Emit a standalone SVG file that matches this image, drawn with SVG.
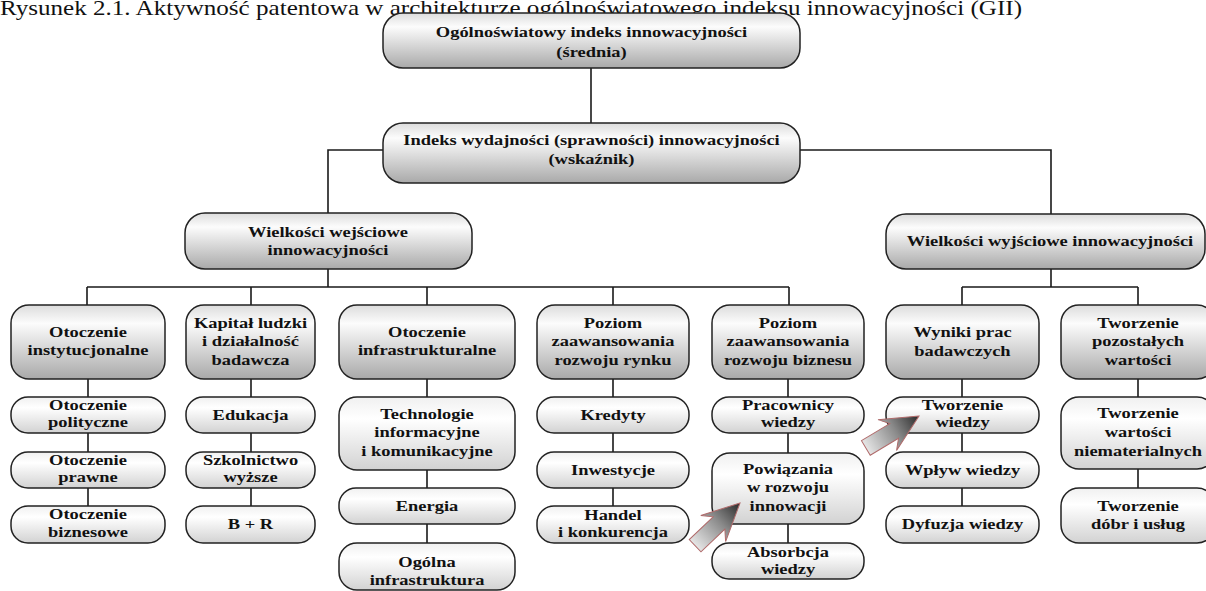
<svg xmlns="http://www.w3.org/2000/svg" width="1206" height="591" viewBox="0 0 1206 591">
<style>
.title{font-family:"Liberation Serif","Times New Roman",serif;font-size:20.4px;fill:#111}
.t{font-family:"Liberation Serif","Times New Roman",serif;font-weight:bold;font-size:15px;fill:#111;text-anchor:middle}
.m{fill:url(#gMain);stroke:#222;stroke-width:1.5}
.l{fill:url(#gLight);stroke:#222;stroke-width:1.5}
.c{stroke:#1a1a1a;stroke-width:1.6;fill:none}
.ar{fill:url(#gArrow);stroke:#b06a6a;stroke-width:1}
</style>
<defs>
<linearGradient id="gMain" x1="0" y1="0" x2="0" y2="1">
<stop offset="0" stop-color="#dcdcdc"/>
<stop offset="0.25" stop-color="#fcfcfc"/>
<stop offset="1" stop-color="#a9a9a9"/>
</linearGradient>
<linearGradient id="gLight" x1="0" y1="0" x2="0" y2="1">
<stop offset="0" stop-color="#f0f0f0"/>
<stop offset="0.3" stop-color="#ffffff"/>
<stop offset="1" stop-color="#d2d2d2"/>
</linearGradient>
<linearGradient id="gArrow" x1="0" y1="0" x2="1" y2="0">
<stop offset="0" stop-color="#e6e6e6"/>
<stop offset="0.55" stop-color="#8a8a8a"/>
<stop offset="1" stop-color="#2a2a2a"/>
</linearGradient>
<path id="blk" class="ar" d="M0 0 L-37 -18 L-29 -8.5 L-62 -8.5 L-62 8.5 L-29 8.5 L-37 18 Z"/>
</defs>

<text class="title" x="0" y="15" textLength="1022" lengthAdjust="spacingAndGlyphs">Rysunek 2.1. Aktywność patentowa w architekturze ogólnoświatowego indeksu innowacyjności (GII)</text>

<g id="connectors">
<path class="c" d="M591 68 V123"/>
<path class="c" d="M383 150 H328 V213 M800 150 H1051 V214"/>
<path class="c" d="M328 269 V287 M87 287 H789 M87 287 V305 M251 287 V305 M427 287 V305 M613 287 V305 M789 287 V305"/>
<path class="c" d="M1051 269 V287 M962 287 H1138 M962 287 V305 M1138 287 V305"/>
<path class="c" d="M88 379 V506 M251 379 V506 M427 379 V543 M613 379 V506 M788 379 V543 M962 379 V506 M1138 379 V488"/>
</g>

<g id="n-gii"><rect class="m" x="383" y="13" width="417" height="55" rx="20"/>
<text class="t" transform="translate(591.5 0) scale(1.23 1)"><tspan x="0" y="37">Ogólnoświatowy indeks innowacyjności</tspan><tspan x="0" y="57">(średnia)</tspan></text></g>

<g id="n-indeks"><rect class="m" x="383" y="123" width="417" height="60" rx="20"/>
<text class="t" transform="translate(591.5 0) scale(1.23 1)"><tspan x="0" y="145">Indeks wydajności (sprawności) innowacyjności</tspan><tspan x="0" y="164.5">(wskaźnik)</tspan></text></g>

<g id="n-wejsciowe"><rect class="m" x="185" y="213" width="287" height="56" rx="20"/>
<text class="t" transform="translate(328 0) scale(1.23 1)"><tspan x="0" y="237">Wielkości wejściowe</tspan><tspan x="0" y="255">innowacyjności</tspan></text></g>

<g id="n-wyjsciowe"><rect class="m" x="886" y="214" width="319" height="55" rx="20"/>
<text class="t" transform="translate(1050 0) scale(1.23 1)"><tspan x="0" y="246">Wielkości wyjściowe innowacyjności</tspan></text></g>

<g id="n-instytucjonalne"><rect class="m" x="11" y="305" width="154" height="74" rx="18"/>
<text class="t" transform="translate(88 0) scale(1.23 1)"><tspan x="0" y="337">Otoczenie</tspan><tspan x="0" y="355.5">instytucjonalne</tspan></text></g>

<g id="n-kapital"><rect class="m" x="186" y="305" width="129" height="74" rx="18"/>
<text class="t" transform="translate(250.5 0) scale(1.23 1)"><tspan x="0" y="328">Kapitał ludzki</tspan><tspan x="0" y="346.5">i działalność</tspan><tspan x="0" y="365">badawcza</tspan></text></g>

<g id="n-infrastrukturalne"><rect class="m" x="339" y="305" width="176" height="74" rx="18"/>
<text class="t" transform="translate(427 0) scale(1.23 1)"><tspan x="0" y="337">Otoczenie</tspan><tspan x="0" y="355.5">infrastrukturalne</tspan></text></g>

<g id="n-rynek"><rect class="m" x="537" y="305" width="152" height="74" rx="18"/>
<text class="t" transform="translate(613 0) scale(1.23 1)"><tspan x="0" y="328">Poziom</tspan><tspan x="0" y="346.5">zaawansowania</tspan><tspan x="0" y="365">rozwoju rynku</tspan></text></g>

<g id="n-biznes"><rect class="m" x="712" y="305" width="152" height="74" rx="18"/>
<text class="t" transform="translate(788 0) scale(1.23 1)"><tspan x="0" y="328">Poziom</tspan><tspan x="0" y="346.5">zaawansowania</tspan><tspan x="0" y="365">rozwoju biznesu</tspan></text></g>

<g id="n-wyniki"><rect class="m" x="886" y="305" width="153" height="74" rx="18"/>
<text class="t" transform="translate(962.5 0) scale(1.23 1)"><tspan x="0" y="337.5">Wyniki prac</tspan><tspan x="0" y="356">badawczych</tspan></text></g>

<g id="n-pozostale"><rect class="m" x="1061" y="305" width="154" height="74" rx="18"/>
<text class="t" transform="translate(1138 0) scale(1.23 1)"><tspan x="0" y="328">Tworzenie</tspan><tspan x="0" y="346.5">pozostałych</tspan><tspan x="0" y="365">wartości</tspan></text></g>

<g id="n-polityczne"><rect class="l" x="11" y="397" width="154" height="36" rx="17"/>
<text class="t" transform="translate(88 0) scale(1.23 1)"><tspan x="0" y="410.5">Otoczenie</tspan><tspan x="0" y="427.5">polityczne</tspan></text></g>
<g id="n-prawne"><rect class="l" x="11" y="452" width="154" height="36" rx="17"/>
<text class="t" transform="translate(88 0) scale(1.23 1)"><tspan x="0" y="465.5">Otoczenie</tspan><tspan x="0" y="482.5">prawne</tspan></text></g>
<g id="n-biznesowe"><rect class="l" x="11" y="506" width="154" height="37" rx="17"/>
<text class="t" transform="translate(88 0) scale(1.23 1)"><tspan x="0" y="519.5">Otoczenie</tspan><tspan x="0" y="537">biznesowe</tspan></text></g>

<g id="n-edukacja"><rect class="l" x="186" y="397" width="129" height="36" rx="17"/>
<text class="t" transform="translate(250.5 0) scale(1.23 1)"><tspan x="0" y="420">Edukacja</tspan></text></g>
<g id="n-szkolnictwo"><rect class="l" x="186" y="452" width="129" height="36" rx="17"/>
<text class="t" transform="translate(250.5 0) scale(1.23 1)"><tspan x="0" y="465.5">Szkolnictwo</tspan><tspan x="0" y="482.5">wyższe</tspan></text></g>
<g id="n-br"><rect class="l" x="186" y="506" width="129" height="37" rx="17"/>
<text class="t" transform="translate(250.5 0) scale(1.23 1)"><tspan x="0" y="529">B + R</tspan></text></g>

<g id="n-tik"><rect class="l" x="339" y="397" width="176" height="73" rx="18"/>
<text class="t" transform="translate(427 0) scale(1.23 1)"><tspan x="0" y="419">Technologie</tspan><tspan x="0" y="437.5">informacyjne</tspan><tspan x="0" y="456">i komunikacyjne</tspan></text></g>
<g id="n-energia"><rect class="l" x="339" y="488" width="176" height="36" rx="17"/>
<text class="t" transform="translate(427 0) scale(1.23 1)"><tspan x="0" y="511">Energia</tspan></text></g>
<g id="n-ogolna"><rect class="l" x="339" y="543" width="176" height="47" rx="18"/>
<text class="t" transform="translate(427 0) scale(1.23 1)"><tspan x="0" y="567">Ogólna</tspan><tspan x="0" y="585">infrastruktura</tspan></text></g>

<g id="n-kredyty"><rect class="l" x="537" y="397" width="152" height="36" rx="17"/>
<text class="t" transform="translate(613 0) scale(1.23 1)"><tspan x="0" y="420">Kredyty</tspan></text></g>
<g id="n-inwestycje"><rect class="l" x="537" y="452" width="152" height="36" rx="17"/>
<text class="t" transform="translate(613 0) scale(1.23 1)"><tspan x="0" y="475">Inwestycje</tspan></text></g>
<g id="n-handel"><rect class="l" x="537" y="506" width="152" height="37" rx="17"/>
<text class="t" transform="translate(613 0) scale(1.23 1)"><tspan x="0" y="520">Handel</tspan><tspan x="0" y="537">i konkurencja</tspan></text></g>

<g id="n-pracownicy"><rect class="l" x="712" y="397" width="152" height="36" rx="17"/>
<text class="t" transform="translate(788 0) scale(1.23 1)"><tspan x="0" y="410.5">Pracownicy</tspan><tspan x="0" y="427.5">wiedzy</tspan></text></g>
<g id="n-powiazania"><rect class="l" x="712" y="453" width="152" height="71" rx="18"/>
<text class="t" transform="translate(788 0) scale(1.23 1)"><tspan x="0" y="474">Powiązania</tspan><tspan x="0" y="492.5">w rozwoju</tspan><tspan x="0" y="511">innowacji</tspan></text></g>
<g id="n-absorbcja"><rect class="l" x="712" y="543" width="152" height="36" rx="17"/>
<text class="t" transform="translate(788 0) scale(1.23 1)"><tspan x="0" y="557.5">Absorbcja</tspan><tspan x="0" y="574.5">wiedzy</tspan></text></g>

<g id="n-tworzenie-wiedzy"><rect class="l" x="886" y="397" width="153" height="36" rx="17"/>
<text class="t" transform="translate(962.5 0) scale(1.23 1)"><tspan x="0" y="410.5">Tworzenie</tspan><tspan x="0" y="427.5">wiedzy</tspan></text></g>
<g id="n-wplyw"><rect class="l" x="886" y="452" width="153" height="36" rx="17"/>
<text class="t" transform="translate(962.5 0) scale(1.23 1)"><tspan x="0" y="475">Wpływ wiedzy</tspan></text></g>
<g id="n-dyfuzja"><rect class="l" x="886" y="506" width="153" height="37" rx="17"/>
<text class="t" transform="translate(962.5 0) scale(1.23 1)"><tspan x="0" y="529">Dyfuzja wiedzy</tspan></text></g>

<g id="n-niematerialne"><rect class="l" x="1061" y="397" width="154" height="72" rx="18"/>
<text class="t" transform="translate(1138 0) scale(1.23 1)"><tspan x="0" y="418">Tworzenie</tspan><tspan x="0" y="437">wartości</tspan><tspan x="0" y="456">niematerialnych</tspan></text></g>
<g id="n-dobra"><rect class="l" x="1061" y="488" width="154" height="55" rx="18"/>
<text class="t" transform="translate(1138 0) scale(1.23 1)"><tspan x="0" y="511.5">Tworzenie</tspan><tspan x="0" y="529.5">dóbr i usług</tspan></text></g>

<g id="arrows">
<use href="#blk" transform="translate(740 503) rotate(-43.6)"/>
<use href="#blk" transform="translate(919 416) rotate(-31)"/>
</g>
</svg>
